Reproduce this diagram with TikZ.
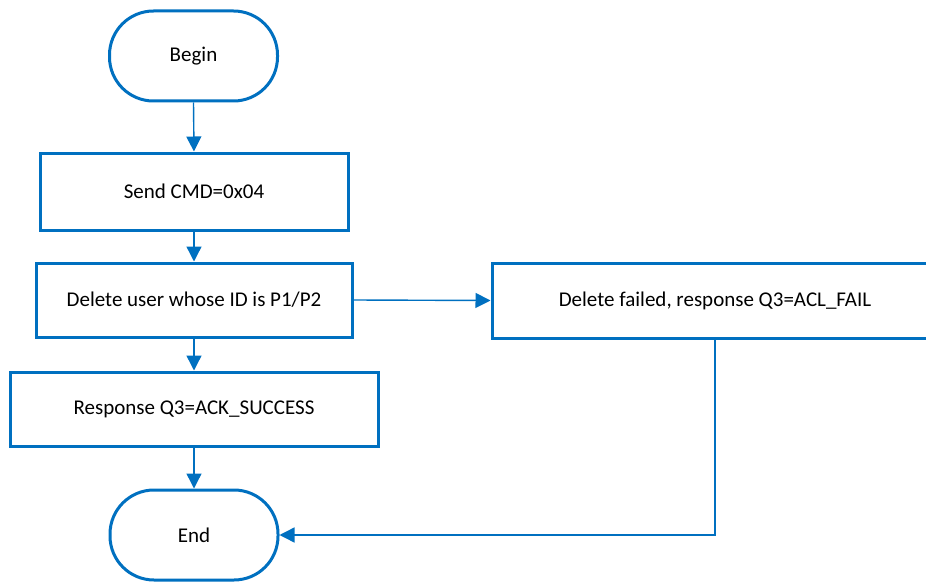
\documentclass[tikz,border=0pt]{standalone}
\usepackage{fontspec}
\setmainfont{Carlito}
\usetikzlibrary{arrows.meta}
\definecolor{flowblue}{RGB}{0,112,192}
\begin{document}
\begin{tikzpicture}[x=1pt,y=-1pt,
  box/.style={draw=flowblue, line width=3pt, fill=white, rectangle, inner sep=0pt,
    font=\fontsize{21}{24}\selectfont, text=black},
  term/.style={box, rounded corners=44pt},
  conn/.style={draw=flowblue, line width=1.4pt, -{Triangle[length=15pt,width=15pt]}}]
\useasboundingbox (0,0) rectangle (926,583);
\begin{scope}
\clip (0,0) rectangle (926,583);
\node[term, minimum width=168pt, minimum height=90pt] (begin) at (193.5,56) {Begin};
\node[box, minimum width=308pt, minimum height=77pt] (send) at (194,191.5) {Send CMD=0x04};
\node[box, minimum width=316pt, minimum height=74pt] (del) at (194,300) {Delete user whose ID is P1/P2};
\node[box, minimum width=446pt, minimum height=75pt] (fail) at (715,300.5) {Delete failed, response Q3=ACL\_FAIL};
\node[box, minimum width=368pt, minimum height=74pt] (resp) at (194,409) {Response Q3=ACK\_SUCCESS};
\node[term, minimum width=168pt, minimum height=90pt] (end) at (194,535) {End};
\draw[conn] (begin.south) -- (send.north);
\draw[conn] (send.south) -- (del.north);
\draw[conn] (del.east) -- (fail.west);
\draw[conn] (del.south) -- (resp.north);
\draw[conn] (resp.south) -- (end.north);
\draw[conn] (fail.south) |- (end.east);
\end{scope}
\end{tikzpicture}
\end{document}
